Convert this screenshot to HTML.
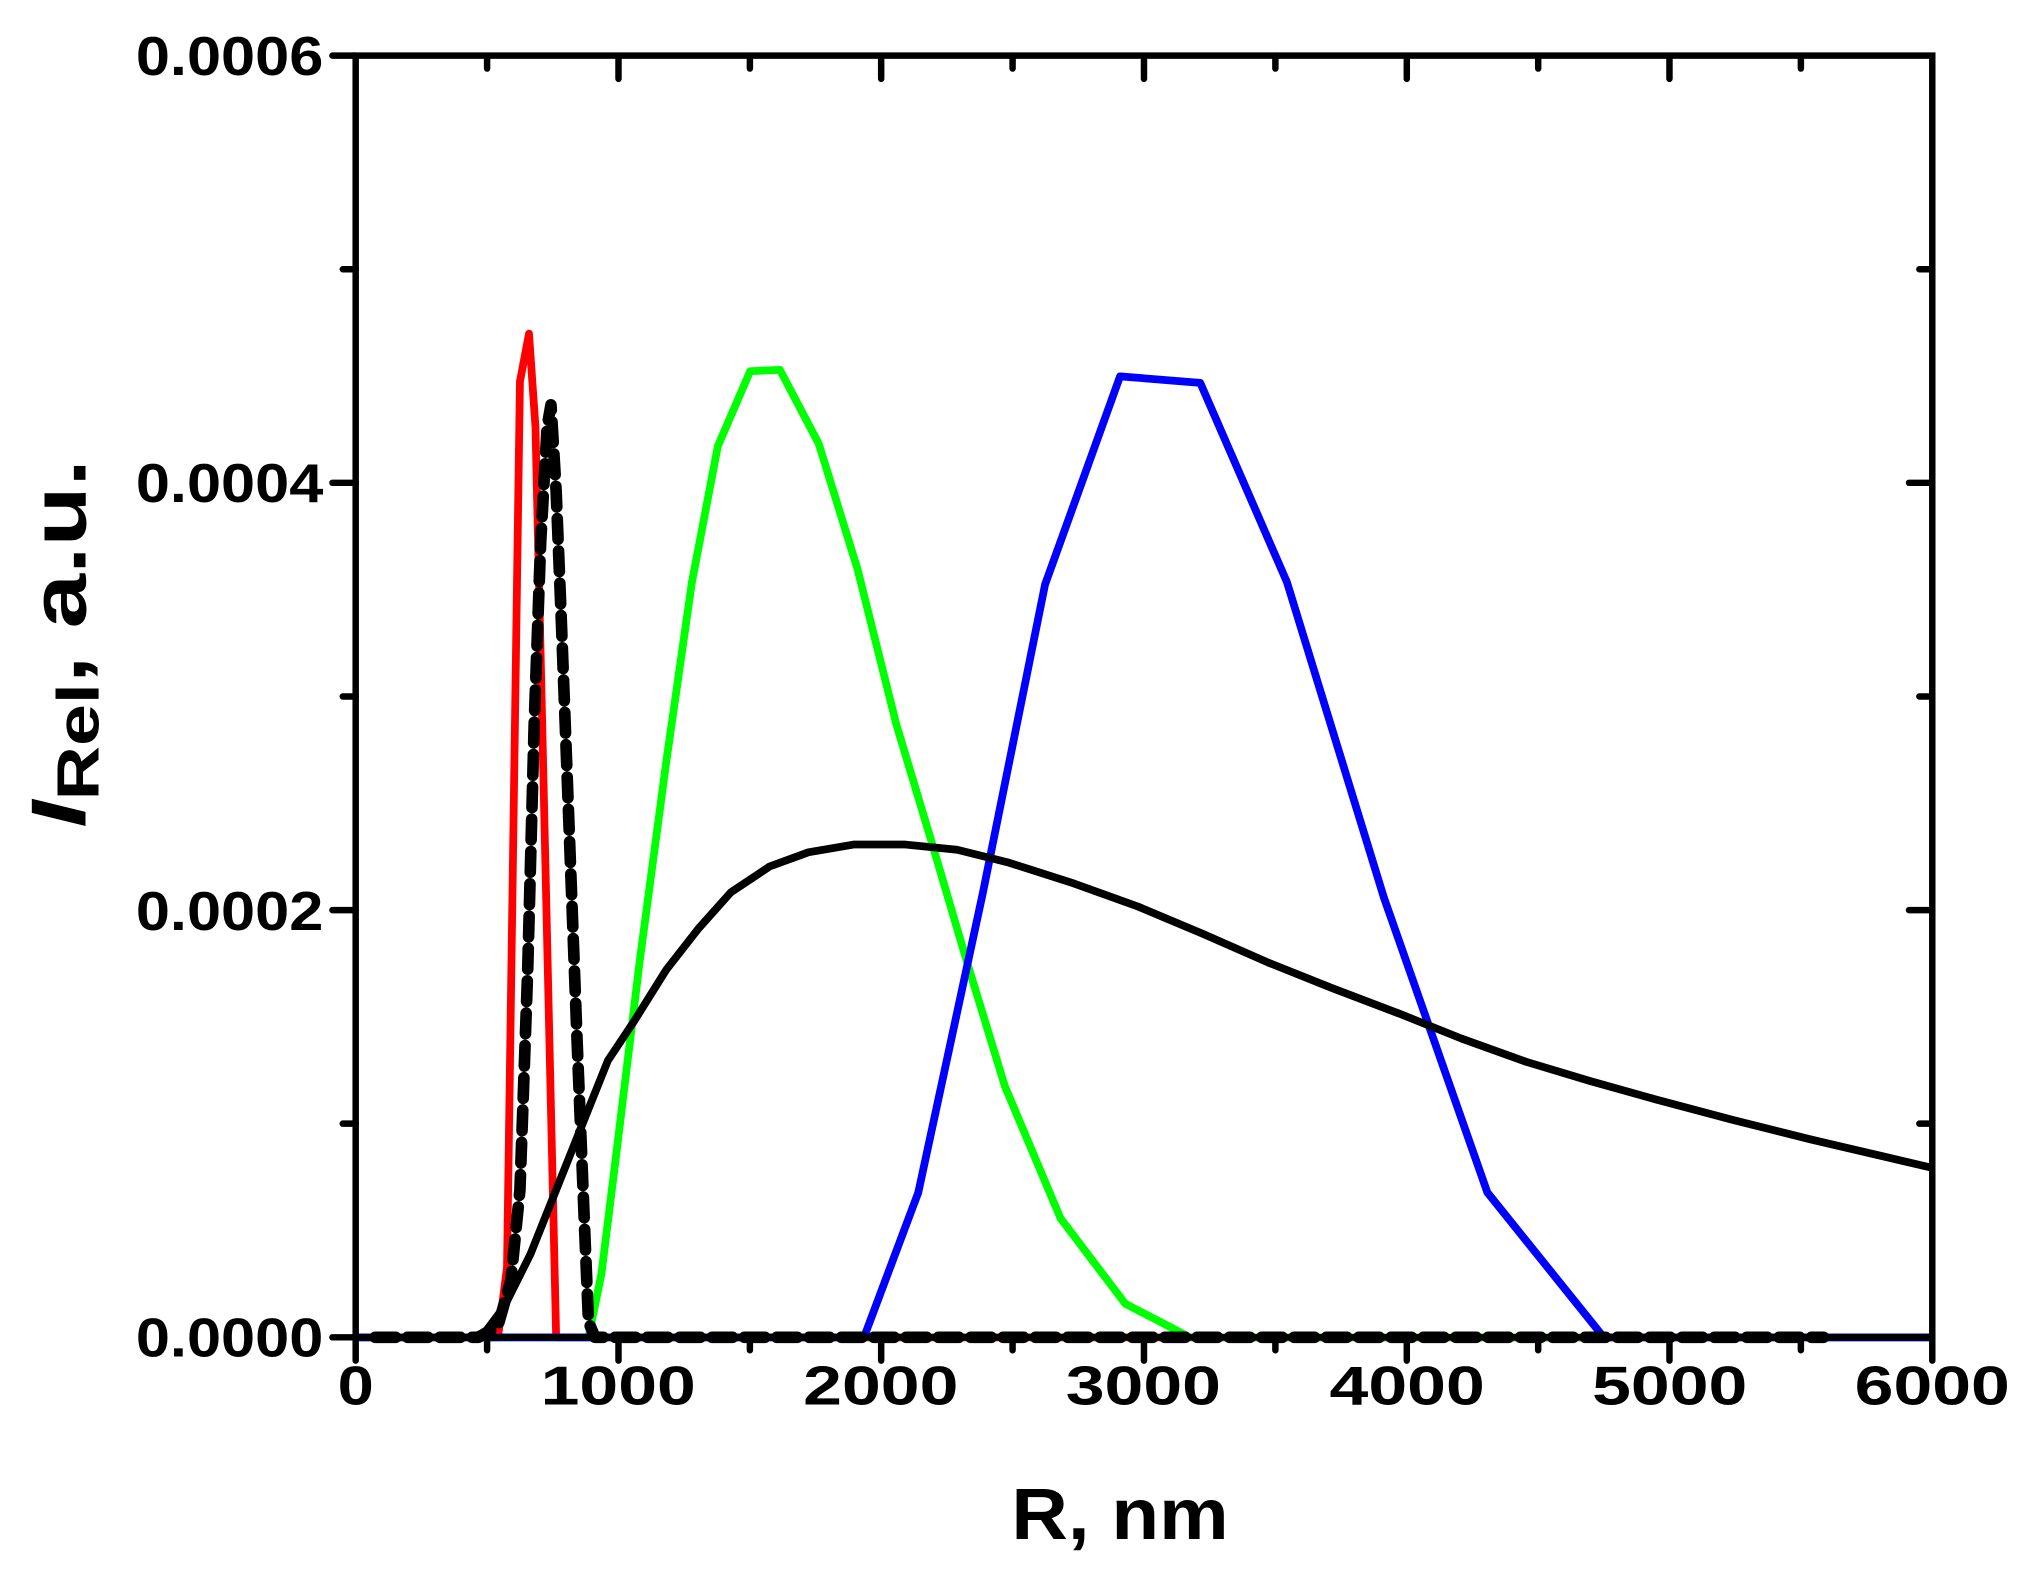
<!DOCTYPE html>
<html><head><meta charset="utf-8"><style>html,body{margin:0;padding:0;background:#fff}svg{display:block}</style></head>
<body>
<svg width="2028" height="1574" viewBox="0 0 1568 1217" xmlns="http://www.w3.org/2000/svg" font-family="Liberation Sans, Arial, sans-serif" font-weight="bold">
<rect width="1568" height="1217" fill="#fff"/>
<g fill="none" stroke-linejoin="round">
<polyline stroke="#ff0000" stroke-width="6" points="275,1034 385,1034 392,980 402,295 409,258 414,330 430,1034 1494,1034"/>
<polyline stroke="#00ff00" stroke-width="6" points="275,1034 455,1034 465,985 478,880 495,740 515,590 535,450 555,345 580,287 603,286 633,343 663,440 693,560 720,650 748,745 777,840 820,942 870,1008 920,1034 1494,1034"/>
<polyline stroke="#0000ff" stroke-width="6" points="275,1034 668,1034 710,922 760,690 808,452 866,291 928,296 995,450 1070,694 1150,922 1240,1034 1494,1034"/>
<polyline stroke="#000" stroke-width="6" points="365,1034 375,1030 390,1010 410,970 430,920 450,870 470,820 490,790 515,750 540,718 565,690 595,670 625,659 660,653 700,653 740,657 780,667 830,683 880,701 930,722 980,744 1030,764 1080,783 1130,803 1180,821 1230,836 1280,850 1340,866 1400,881 1460,895 1494,903"/>
<polyline stroke="#000" stroke-width="9" stroke-dasharray="16,9" stroke-linecap="round" points="290,1034 370,1034 385,1025 395,990 402,920 408,750 413,560 418,420 423,330 426,313 430,380 434,480 440,640 446,800 452,950 455,1022 460,1034 1410,1034"/>
</g>
<g stroke="#000" stroke-width="5" fill="none" stroke-linecap="round">
<rect x="275" y="43" width="1219" height="991"/>
<path d="M275,1034v18 M478.2,1034v18 M681.3,1034v18 M884.5,1034v18 M1087.7,1034v18 M1290.8,1034v18 M1494,1034v18"/>
<path d="M376.6,1034v10 M579.8,1034v10 M782.9,1034v10 M986.1,1034v10 M1189.3,1034v10 M1392.4,1034v10"/>
<path d="M478.2,43v18 M681.3,43v18 M884.5,43v18 M1087.7,43v18 M1290.8,43v18"/>
<path d="M376.6,43v10 M579.8,43v10 M782.9,43v10 M986.1,43v10 M1189.3,43v10 M1392.4,43v10"/>
<path d="M275,43h-18 M275,373.3h-18 M275,703.7h-18 M275,1034h-18 M275,208.2h-10 M275,538.5h-10 M275,868.8h-10"/>
<path d="M1494,373.3h-18 M1494,703.7h-18 M1494,208.2h-10 M1494,538.5h-10 M1494,868.8h-10"/>
</g>
<g font-size="42">
<text x="105" y="58" textLength="145" lengthAdjust="spacingAndGlyphs">0.0006</text>
<text x="105" y="388" textLength="145" lengthAdjust="spacingAndGlyphs">0.0004</text>
<text x="105" y="719" textLength="145" lengthAdjust="spacingAndGlyphs">0.0002</text>
<text x="105" y="1049" textLength="145" lengthAdjust="spacingAndGlyphs">0.0000</text>
</g>
<g font-size="42">
<text x="261" y="1086" textLength="28" lengthAdjust="spacingAndGlyphs">0</text>
<text x="418" y="1086" textLength="120" lengthAdjust="spacingAndGlyphs">1000</text>
<text x="621" y="1086" textLength="120" lengthAdjust="spacingAndGlyphs">2000</text>
<text x="824" y="1086" textLength="120" lengthAdjust="spacingAndGlyphs">3000</text>
<text x="1028" y="1086" textLength="120" lengthAdjust="spacingAndGlyphs">4000</text>
<text x="1231" y="1086" textLength="120" lengthAdjust="spacingAndGlyphs">5000</text>
<text x="1434" y="1086" textLength="120" lengthAdjust="spacingAndGlyphs">6000</text>
</g>
<text x="782" y="1190" font-size="56" textLength="168" lengthAdjust="spacingAndGlyphs">R, nm</text>
<text transform="translate(66,640) rotate(-90)" font-size="60" textLength="285" lengthAdjust="spacingAndGlyphs"><tspan font-style="italic">I</tspan><tspan font-size="46" dy="10">Rel</tspan><tspan dy="-10">, a.u.</tspan></text>
</svg>
</body></html>
